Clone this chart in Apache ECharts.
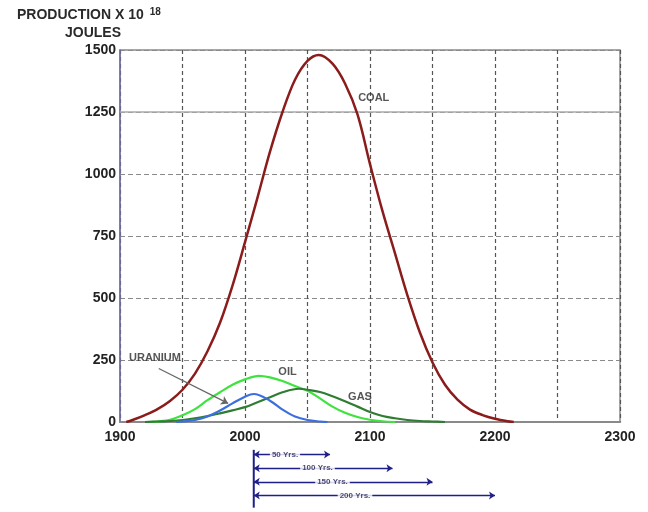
<!DOCTYPE html>
<html>
<head>
<meta charset="utf-8">
<script src="https://cdn.jsdelivr.net/npm/echarts@6/dist/echarts.min.js"></script>
<style>html,body{margin:0;padding:0;background:#fff}#c{width:648px;height:512px}</style>
</head>
<body>
<div id="c"></div>
<script>
// ---- data ----
const coalYears  = [1905,1910,1920,1930,1940,1950,1960,1970,1980,1990,2000,2010,2020,2030,2040,2050,2059,2070,2080,2090,2100,2110,2120,2130,2140,2150,2160,2170,2180,2190,2200,2210,2215];
const coalValues = [0,8,28,52,85,130,195,285,400,550,725,905,1090,1250,1380,1456,1480,1445,1365,1240,1040,850,680,510,360,240,150,90,50,28,13,3,0];
const oilYears   = [1925,1930,1940,1950,1960,1970,1980,1990,2000,2011,2020,2030,2040,2050,2060,2070,2080,2090,2100,2110,2120];
const oilValues  = [0,2,9,27,52,88,120,150,172,186,180,165,145,126,95,62,37,20,9,3,0];
const uraniumYears  = [1945,1950,1960,1970,1980,1990,2000,2007,2020,2030,2040,2050,2060,2066];
const uraniumValues = [0,2,8,22,46,75,102,113,86,50,22,8,2,0];
const gasYears   = [1920,1930,1940,1950,1960,1970,1980,1990,2000,2010,2020,2030,2043,2050,2060,2070,2080,2090,2100,2110,2120,2130,2140,2150,2160];
const gasValues  = [0,2,4,8,15,24,35,47,60,80,100,120,134,130,121,104,84,62,40,24,15,8,4,2,0];

const labelNames  = ['COAL','OIL','GAS','URANIUM'];
const labelYears  = [2103,2034,2092,1928];
const labelValues = [1306,202,101,258];
const uraniumArrow = [[1931,216],[1986.5,75]];

const spanStart  = 2007;
const spanEnds   = [2068,2118,2150,2200];
const spanLabels = ['50 Yrs.','100 Yrs.','150 Yrs.','200 Yrs.'];
const spanLabelYears = [2032,2058,2070,2088];
const spanRows   = [1,2,3,4];

const xTicks = {min:1900, max:2300, interval:50};
const yTicks = {min:0, max:1500, interval:250};

// ---- build ----
const pairs = (xs, ys) => xs.map((x,i)=>[x, ys[i]]);
const FONT = '"Liberation Sans", Arial, sans-serif';
const SM = 0.35;

const chart = echarts.init(document.getElementById('c'));
chart.setOption({
  animation:false,
  backgroundColor:'#fff',
  title:[
    {text:'PRODUCTION X 10 {s|18}', left:12, top:2,
     textStyle:{fontFamily:FONT,fontSize:14,fontWeight:'bold',color:'#2a2a2a',
       rich:{s:{fontFamily:FONT,fontSize:10,fontWeight:'bold',color:'#2a2a2a',verticalAlign:'top',padding:[0,0,6,2]}}}},
    {text:'JOULES', left:60, top:21,
     textStyle:{fontFamily:FONT,fontSize:14,fontWeight:'bold',color:'#2a2a2a'}}
  ],
  grid:[
    {left:120, right:28, top:50, height:372, show:true, borderColor:'#8a8a8a', borderWidth:1.5},
    {left:120, right:28, top:441, height:68}
  ],
  xAxis:[
    {type:'value', min:xTicks.min, max:xTicks.max, interval:xTicks.interval, gridIndex:0,
     axisLine:{lineStyle:{color:'#8a8a8a',width:2}}, axisTick:{show:false},
     axisLabel:{margin:8, fontFamily:FONT, fontSize:14, fontWeight:'bold', color:'#222',
       formatter:v => (v % 100 === 0 ? String(v) : '')},
     splitLine:{show:true, lineStyle:{color:'#555', type:[4,3], width:1.2}}},
    {type:'value', min:xTicks.min, max:xTicks.max, gridIndex:1, show:false}
  ],
  yAxis:[
    {type:'value', min:yTicks.min, max:yTicks.max, interval:yTicks.interval, gridIndex:0,
     axisLine:{show:true, lineStyle:{color:'#7070a8',width:1.5}}, axisTick:{show:false},
     axisLabel:{margin:4, fontFamily:FONT, fontSize:14, fontWeight:'bold', color:'#222',
       formatter:v => String(v)},
     splitLine:{show:true, lineStyle:{color:'#8a8a8a', type:[5,3], width:1.2}}},
    {type:'value', min:0, max:5, inverse:true, gridIndex:1, show:false}
  ],
  series:[
    {name:'COAL', type:'line', smooth:SM, showSymbol:false, data:pairs(coalYears,coalValues),
     lineStyle:{color:'#8b1c1c', width:2.5}, z:5,
     markLine:{silent:true, symbol:'none', label:{show:false},
       lineStyle:{color:'#aaaaaa', type:'solid', width:1.5}, data:[{yAxis:1250}]}},
    {name:'OIL', type:'line', smooth:SM, showSymbol:false, data:pairs(oilYears,oilValues),
     lineStyle:{color:'#3ee33e', width:2.2}, z:4},
    {name:'GAS', type:'line', smooth:SM, showSymbol:false, data:pairs(gasYears,gasValues),
     lineStyle:{color:'#2e7d32', width:2.2}, z:4},
    {name:'URANIUM', type:'line', smooth:SM, showSymbol:false, data:pairs(uraniumYears,uraniumValues),
     lineStyle:{color:'#3b6fe0', width:2.2}, z:4},
    {name:'uranium-arrow', type:'lines', coordinateSystem:'cartesian2d', xAxisIndex:0, yAxisIndex:0,
     symbol:['none','arrow'], symbolSize:7, z:6,
     lineStyle:{color:'#666', width:1.2, opacity:1},
     itemStyle:{color:'#222'},
     data:[{coords:uraniumArrow}]},
    {name:'labels', type:'scatter', symbolSize:0, z:7,
     data:labelNames.map((n,i)=>({name:n, value:[labelYears[i], labelValues[i]]})),
     label:{show:true, position:'inside', formatter:p=>p.name, fontFamily:FONT,
       fontSize:11, fontWeight:'bold', color:'#2a2a2a'}},
    // spans below
    {name:'span-lines', type:'lines', coordinateSystem:'cartesian2d', xAxisIndex:1, yAxisIndex:1,
     symbol:['arrow','arrow'], symbolSize:6, z:5,
     lineStyle:{color:'#1f1f8a', width:1.3, opacity:1}, itemStyle:{color:'#1f1f8a'},
     data:spanEnds.map((e,i)=>({coords:[[spanStart, spanRows[i]],[e, spanRows[i]]]}))},
    {name:'span-base', type:'line', xAxisIndex:1, yAxisIndex:1, showSymbol:false, z:5,
     lineStyle:{color:'#1f1f8a', width:2},
     data:[[spanStart,0.65],[spanStart,4.9]]},
    {name:'span-labels', type:'scatter', xAxisIndex:1, yAxisIndex:1, symbolSize:0, z:8,
     data:spanLabels.map((t,i)=>({name:t, value:[spanLabelYears[i], spanRows[i]]})),
     label:{show:true, position:'inside', formatter:p=>p.name, fontFamily:FONT,
       fontSize:8, fontWeight:'bold', color:'#1a1a50', backgroundColor:'#fff', padding:[0,2]}}
  ]
});
</script>
</body>
</html>
